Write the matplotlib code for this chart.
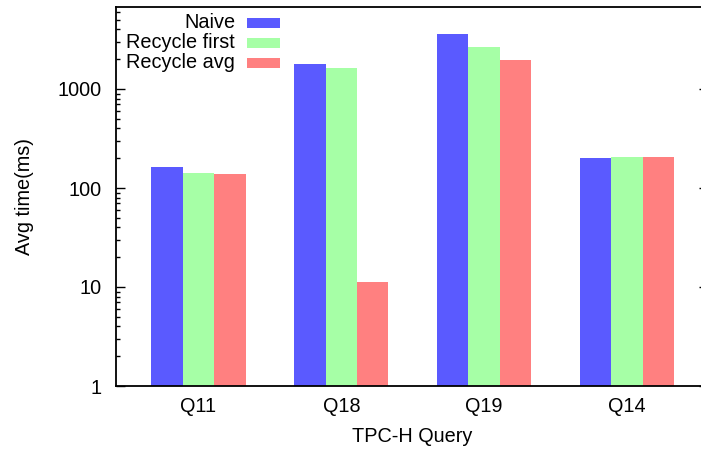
import numpy as np
import matplotlib
matplotlib.use("Agg")
import matplotlib.pyplot as plt
from matplotlib.patches import Rectangle
from matplotlib.ticker import LogLocator, NullFormatter, FixedLocator, FixedFormatter

plt.rcParams.update({'font.size': 14.3, 'font.family': ['Liberation Sans', 'DejaVu Sans']})

queries = ["Q11", "Q18", "Q19", "Q14"]
series = ["Naive", "Recycle first", "Recycle avg"]
naive = [164, 1790, 3590, 201]
recycle_first = [142, 1630, 2660, 206]
recycle_avg = [138, 11.2, 1960, 206]
colors = ["#5a5aff", "#a6ffa6", "#ff8080"]

W, H = 701, 449
fig = plt.figure(figsize=(W / 100, H / 100), dpi=100)
# axes box: left spine x=116, right ~708 (off the image), top y=7, bottom y=386
ax = fig.add_axes([116 / W, 1 - 386 / H, (708 - 116) / W, (386 - 7) / H])

x = np.arange(len(queries))
w = 0.22
for i, (vals, c) in enumerate(zip([naive, recycle_first, recycle_avg], colors)):
    ax.bar(x + (i - 1) * w, vals, width=w, color=c, edgecolor='none')

ax.set_yscale('log')
ax.set_ylim(1, 10 ** (379 / 99))
ax.set_xlim(-0.578, 3.568)

ax.yaxis.set_major_locator(FixedLocator([1, 10, 100, 1000]))
ax.yaxis.set_major_formatter(FixedFormatter(["1", "10", "100", "1000"]))
ax.yaxis.set_minor_locator(LogLocator(base=10, subs=np.arange(2, 10)))
ax.yaxis.set_minor_formatter(NullFormatter())
ax.tick_params(axis='y', which='major', direction='in', length=6.5, width=1.0,
               right=True, pad=10)
ax.tick_params(axis='y', which='minor', direction='in', length=3.2, width=1.0, right=True)
ax.set_xticks(x)
ax.set_xticklabels(queries)
ax.tick_params(axis='x', length=0, pad=8)

for s in ax.spines.values():
    s.set_linewidth(1.3)

ax.set_ylabel("Avg time(ms)", labelpad=17)
ax.set_xlabel("TPC-H Query", labelpad=8)

# legend: right-aligned labels with colour swatches to the right
for k, (name, c) in enumerate(zip(series, colors)):
    yc = 23 + 20 * k
    fig.text(235 / W, 1 - yc / H, name, ha='right', va='center')
    fig.patches.append(Rectangle((247 / W, 1 - (yc + 5) / H), 33 / W, 10 / H,
                                 transform=fig.transFigure, facecolor=c,
                                 edgecolor='none'))

fig.savefig("out.png", dpi=100)
